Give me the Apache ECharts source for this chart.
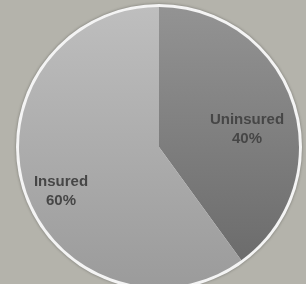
<!DOCTYPE html>
<html>
<head>
<meta charset="utf-8">
<script src="https://cdn.jsdelivr.net/npm/echarts@6/dist/echarts.min.js"></script>
<style>
  html, body { margin: 0; padding: 0; background: #b4b3ab; }
  #chart_box { width: 306px; height: 284px; }
</style>
</head>
<body>
<div id="chart_box"></div>
<script>
// chart data
var categories = ['Uninsured', 'Insured'];
var values = [40, 60];

var sliceColors = [
  ['#939393', '#6c6c6c'],
  ['#bebebe', '#9b9b9b']
];
// label spots
var labelSpots = [[247, 129], [61, 191]];

var myEcharts = echarts.init(document.getElementById('chart_box'));

var pieData = [];
for (var i = 0; i < categories.length; i++) {
  pieData.push({
    name: categories[i],
    value: values[i],
    itemStyle: {
      color: new echarts.graphic.LinearGradient(0, 0, 0, 1, [
        { offset: 0, color: sliceColors[i][0] },
        { offset: 1, color: sliceColors[i][1] }
      ])
    }
  });
}

var option = {
  backgroundColor: '#b4b3ab',
  animation: false,
  series: [
    {
      // white rim behind the pie
      type: 'pie',
      silent: true,
      center: [159, 147],
      radius: [0, 143],
      label: { show: false },
      itemStyle: {
        color: '#f4f4f4',
        shadowBlur: 3,
        shadowColor: 'rgba(0,0,0,0.35)'
      },
      data: [{ name: 'rim', value: 1 }]
    },
    {
      type: 'pie',
      center: [159, 147],
      radius: [0, 140],
      startAngle: 90,
      clockwise: true,
      itemStyle: { borderWidth: 0 },
      label: {
        show: true,
        position: 'inside',
        formatter: '{b}\n{d}%',
        color: '#464646',
        fontFamily: 'Liberation Sans, Arial, sans-serif',
        fontSize: 15,
        fontWeight: 'bold',
        lineHeight: 19
      },
      labelLine: { show: false },
      labelLayout: function (params) {
        var p = labelSpots[params.dataIndex];
        return { x: p[0], y: p[1], align: 'center', verticalAlign: 'middle' };
      },
      data: pieData
    }
  ]
};

myEcharts.setOption(option);
</script>
</body>
</html>
